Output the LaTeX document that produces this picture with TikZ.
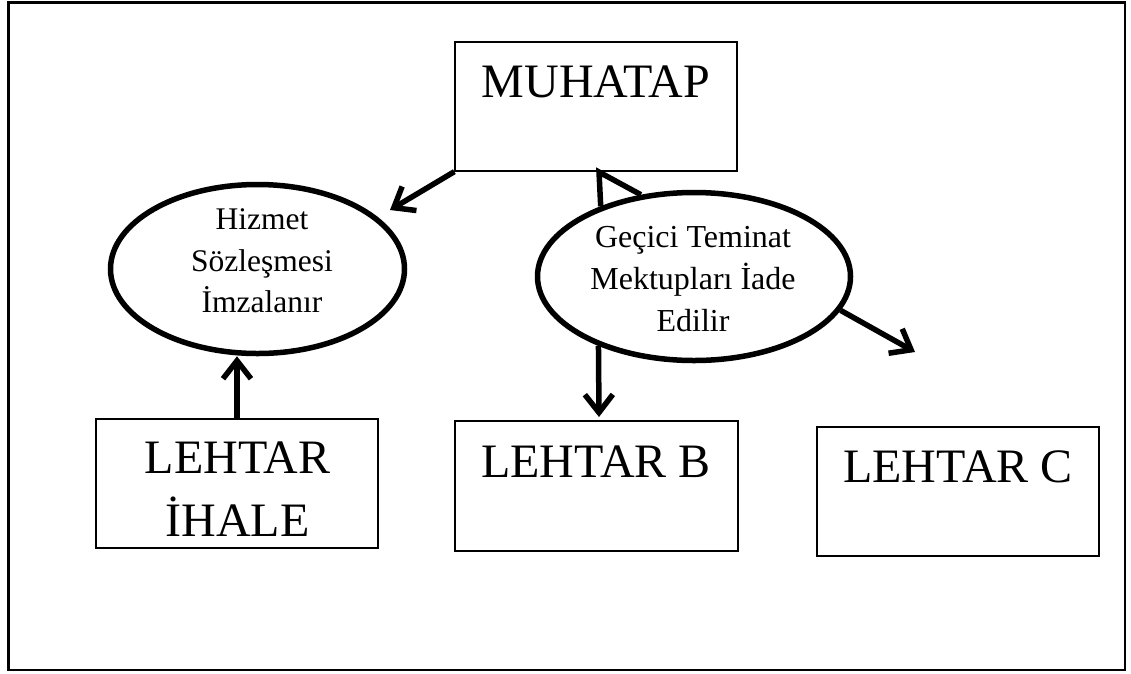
\documentclass[tikz,border=0pt]{standalone}
\usepackage{fontspec}
\setmainfont{Liberation Serif}
\usetikzlibrary{arrows.meta,shapes.geometric}
\begin{document}
\begin{tikzpicture}[x=1pt,y=-1pt,
  box/.style={draw, line width=1.3pt, rectangle, inner sep=0pt},
  oval/.style={draw, line width=5.5pt, ellipse, inner sep=0pt},
  big/.style={font=\fontsize{48}{63}\selectfont, inner sep=0pt, align=center},
  small/.style={font=\fontsize{32}{42}\selectfont, inner sep=0pt, align=center},
  link/.style={line width=5.5pt, -{Straight Barb[length=18pt,width=28pt]}},
  plain/.style={line width=5.5pt, line join=miter}
]
\useasboundingbox (0,0) rectangle (1131,673);

% outer frame
\node[draw, line width=2.4pt, inner sep=0pt, anchor=north west,
      minimum width=1116.3pt, minimum height=667.3pt] (frame) at (7.2,1.2) {};

% rectangular boxes and their titles
\node[box, minimum width=282pt, minimum height=129pt] (muhatap) at (596,106.5) {};
\node[big, anchor=base] (muhatapText) at (596,97) {MUHATAP};

\node[box, minimum width=282pt, minimum height=129pt] (ihale) at (237,483.5) {};
\node[big, anchor=north] (ihaleText) at (237.5,441.2) {LEHTAR\\İHALE};

\node[box, minimum width=283pt, minimum height=130pt] (lehtarB) at (596.5,486) {};
\node[big, anchor=base] (lehtarBText) at (596,477) {LEHTAR B};

\node[box, minimum width=282pt, minimum height=129pt] (lehtarC) at (958,491.5) {};
\node[big, anchor=base] (lehtarCText) at (958,482) {LEHTAR C};

% ellipses
\node[oval, minimum width=294pt, minimum height=169pt] (hizmet) at (257.5,269) {};
\node[small, anchor=north, font=\fontsize{31.5}{41.5}\selectfont] (hizmetText) at (262,208.5)
  {Hizmet\\Sözleşmesi\\İmzalanır};

\node[oval, minimum width=313pt, minimum height=168pt] (gecici) at (694,276.5) {};
\node[small, anchor=north] (geciciText) at (693,226)
  {Geçici Teminat\\Mektupları İade\\Edilir};

% connectors
\coordinate (hizmetTip) at (390,210);
\draw[link] (muhatap.south west) -- (hizmetTip);
\draw[link] (ihale.north) -- (ihale.north |- hizmet.south);

\coordinate (barbTop) at (599,172);
\draw[plain] (gecici.143.8) -- (barbTop) -- (gecici.123.5);

\coordinate (bTip) at (599,417);
\draw[link] (gecici.216.2) -- (bTip);

\coordinate (cTip) at (915,352);
\draw[link] (gecici.-13.2) -- (cTip);
\end{tikzpicture}
\end{document}
